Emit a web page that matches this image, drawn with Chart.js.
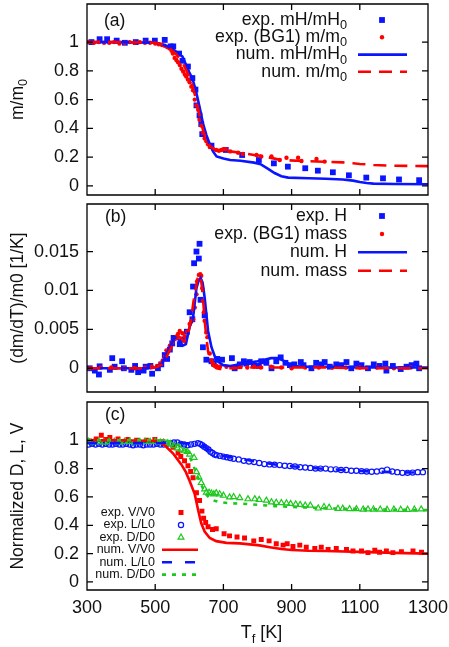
<!DOCTYPE html>
<html>
<head>
<meta charset="utf-8">
<script src="https://cdn.jsdelivr.net/npm/chart.js@4.4.1/dist/chart.umd.min.js"></script>
<style>
  body { margin: 0; background: #fff; width: 449px; height: 647px; position: relative; overflow: hidden; }
  canvas { position: absolute; left: 0; }
</style>
</head>
<body>
<canvas id="chartA" width="449" height="200" style="top:0px"></canvas>
<canvas id="chartB" width="449" height="197" style="top:200px"></canvas>
<canvas id="chartC" width="449" height="250" style="top:397px"></canvas>
<script>
// ---- axis ticks ----
const xTicks = [300, 500, 700, 900, 1100, 1300];
const yTicksFrac = [0, 0.2, 0.4, 0.6, 0.8, 1];
const yTicksRate = [0, 0.005, 0.01, 0.015];

// ---- panel (a): m/m0 ----
const aExpHT = [313,337,359,387,411,443,472,499,528,545,553,570,580,596,609,618,621,630,635,638,665,707,755,804,848,889,940,977,1021,1068,1119,1168,1215,1274];
const aExpHV = [1.0,1.02,1.02,1.01,0.995,1.0,1.01,1.01,1.015,0.97,0.97,0.92,0.87,0.83,0.75,0.67,0.56,0.49,0.43,0.36,0.28,0.25,0.215,0.18,0.157,0.134,0.123,0.106,0.095,0.074,0.058,0.053,0.045,0.04];
const aExpMT = [305,320,335,350,365,380,395,410,425,440,455,470,485,500,510,520,528,535,542,548,552,557,562,567,572,577,582,587,591,596,601,606,611,616,621,626,630,635,640,645,650,655,660,670,679,687,694,700,707,720,743,757,797,811,841,865,885,919,929,973,997];
const aExpMV = [1.0,0.995,1.0,0.995,0.995,1.0,0.99,0.995,1.0,0.995,1.0,0.995,0.995,0.99,0.985,0.98,0.975,0.965,0.956,0.94,0.92,0.89,0.875,0.86,0.84,0.815,0.795,0.775,0.76,0.74,0.72,0.69,0.665,0.6,0.56,0.53,0.46,0.42,0.37,0.33,0.31,0.29,0.27,0.255,0.25,0.245,0.25,0.255,0.255,0.24,0.231,0.222,0.215,0.205,0.205,0.18,0.196,0.196,0.173,0.187,0.169];
const aNumHT = [300,400,500,520,540,560,580,600,610,620,630,640,650,660,670,680,700,720,750,790,810,830,850,870,890,950,1000,1050,1080,1100,1120,1140,1200,1300];
const aNumHV = [1.0,1.0,0.995,0.985,0.967,0.935,0.9,0.79,0.74,0.655,0.55,0.435,0.355,0.29,0.238,0.205,0.19,0.18,0.175,0.162,0.15,0.12,0.09,0.068,0.058,0.053,0.05,0.045,0.037,0.027,0.02,0.016,0.013,0.012];
const aNumMT = [300,400,500,520,540,560,580,600,610,620,630,640,650,660,670,680,700,720,750,790,810,830,850,870,890,950,1000,1050,1080,1100,1120,1140,1200,1300];
const aNumMV = [1.0,1.0,0.995,0.985,0.96,0.92,0.86,0.76,0.69,0.6,0.49,0.39,0.32,0.28,0.26,0.25,0.245,0.24,0.23,0.215,0.21,0.2,0.19,0.18,0.178,0.172,0.168,0.164,0.158,0.153,0.15,0.146,0.14,0.138];

// ---- panel (b): (dm/dT)/m0 ----
const bExpHT = [308,323,335,337,367,374,381,403,408,430,441,450,466,472,486,491,508,518,528,535,543,550,554,572,581,593,601,609,611,614,621,628,630,633,640,645,650,665,672,682,696,725,733,748,760,767,777,789,804,811,826,841,855,868,882,895,908,927,935,958,972,987,997,1012,1031,1046,1061,1075,1090,1105,1124,1141,1158,1175,1178,1197,1220,1237,1252,1266,1274];
const bExpHV = [0,-0.0003,-0.0008,0.00025,-0.0002,0.0013,0.0002,0.0009,0,-0.0002,0.0003,-0.0005,-0.0003,0.0002,0.0003,-0.0007,0,0.0005,0.0017,0.0012,0.0024,0.0032,0.0039,0.0031,0.0037,0.0047,0.0072,0.0063,0.0105,0.0135,0.015,0.0141,0.016,0.0088,0.0027,0.0068,0.0011,0.0009,0.0006,0.0012,0.0011,0.0013,0,0.0005,0.0009,0.0006,0.0008,0.0004,0.0003,0.0009,0.0007,0,0.0009,0.0014,0.0007,0.0004,0.0005,0.0008,0.0004,0,0.0007,0.0005,0.0008,0.0002,0.0005,0.0004,0.0008,0,0.0006,0.0004,0,0.0005,0.0003,0.0006,-0.0003,0.0003,-0.0001,0.0002,0.0004,0.0006,0];
const bExpMT = [310,340,371,410,440,470,490,505,515,522,528,533,543,550,557,562,567,572,580,587,594,601,606,611,616,621,623,628,632,635,638,640,643,645,650,653,660,665,670,680,690,709,730,750,770,790,810,840,870,900,940,980,1020,1060,1100,1150,1200,1250];
const bExpMV = [0,0.0001,0.0001,0,0,0.0001,0.0002,0.0003,0.0006,0.001,0.0015,0.0023,0.0029,0.0033,0.0038,0.0041,0.0044,0.0048,0.0045,0.0041,0.0047,0.0057,0.006,0.0063,0.0078,0.0095,0.0112,0.012,0.0121,0.0119,0.0103,0.0087,0.0072,0.0061,0.0046,0.004,0.0019,0.001,0.0006,0.0003,0.0002,0.0002,0.0001,0.0002,0.0001,0.0002,0.0001,0.0002,0.0001,0,0.0001,0.0001,0.0001,0.0001,0.0001,0.0001,0,0.0001];
const bNumHT = [300,400,480,500,520,528,543,557,567,575,581,590,601,611,621,627,633,639,645,655,665,679,699,720,760,800,820,840,860,880,900,950,1000,1100,1200,1300];
const bNumHV = [0,0,0,0.0001,0.0006,0.0014,0.0027,0.004,0.0038,0.0032,0.0029,0.0031,0.0053,0.0065,0.0103,0.0112,0.0116,0.011,0.0091,0.0048,0.0027,0.001,0.0004,0.0003,0.0006,0.0009,0.0011,0.0013,0.0013,0.0009,0.0003,0.0002,0.0002,0.0001,0.0001,0.0001];
const bNumMT = [300,400,480,500,520,530,545,560,570,575,585,595,605,612,618,624,629,633,637,641,645,650,655,662,670,680,690,700,720,760,800,900,1000,1100,1200,1300];
const bNumMV = [0,0,0,0.0001,0.0005,0.0012,0.0025,0.0036,0.004,0.0039,0.0034,0.0042,0.0062,0.0085,0.01,0.0115,0.012,0.0118,0.0105,0.0085,0.0062,0.004,0.0022,0.001,0.0003,0,-0.0001,-0.0001,0,0.0001,0.0001,0.0001,0.0001,0,0,0];

// ---- panel (c): normalized D, L, V ----
const cExpVT = [308,327,342,355,367,391,420,445,474,499,523,552,567,575,586,596,604,611,621,630,637,642,648,655,668,679,702,718,740,762,789,811,834,855,875,887,904,924,943,968,987,1007,1031,1061,1080,1105,1124,1144,1158,1178,1197,1222,1256,1281];
const cExpVV = [0.995,1.01,1.035,1.005,1.02,1.01,1.005,1.0,1.0,1.005,0.99,0.95,0.91,0.885,0.855,0.82,0.78,0.735,0.63,0.575,0.5,0.45,0.42,0.39,0.37,0.375,0.34,0.325,0.317,0.31,0.29,0.3,0.29,0.27,0.26,0.27,0.25,0.26,0.245,0.237,0.245,0.23,0.237,0.23,0.218,0.218,0.207,0.223,0.21,0.218,0.207,0.214,0.218,0.21];
const cExpLT = [305,315,325,335,345,355,365,375,385,395,405,415,425,435,445,455,465,475,485,495,505,515,525,535,545,555,565,575,585,595,605,615,625,632,638,644,650,656,662,668,674,680,690,700,710,720,730,745,760,775,790,805,820,835,850,865,880,895,910,925,940,955,970,985,1000,1015,1030,1045,1060,1075,1090,1105,1120,1135,1150,1165,1180,1195,1210,1225,1240,1255,1270,1285];
const cExpLV = [0.97,0.975,0.97,0.975,0.97,0.975,0.97,0.97,0.975,0.97,0.97,0.975,0.97,0.965,0.97,0.97,0.965,0.97,0.97,0.97,0.975,0.97,0.97,0.975,0.98,0.985,0.985,0.975,0.97,0.965,0.97,0.975,0.98,0.975,0.965,0.955,0.945,0.935,0.92,0.91,0.9,0.895,0.89,0.885,0.88,0.875,0.87,0.865,0.855,0.85,0.846,0.84,0.832,0.83,0.828,0.825,0.82,0.818,0.815,0.81,0.808,0.805,0.8,0.8,0.8,0.795,0.795,0.79,0.79,0.785,0.785,0.782,0.78,0.778,0.78,0.785,0.793,0.78,0.775,0.77,0.77,0.772,0.775,0.775];
const cExpDT = [305,320,335,350,365,380,395,410,425,440,455,470,485,500,515,525,535,545,555,565,575,585,594,601,614,621,628,635,645,650,658,665,672,679,689,700,718,730,748,772,792,805,826,841,855,870,885,897,912,925,940,955,978,995,1010,1036,1050,1070,1090,1110,1124,1140,1160,1180,1200,1220,1240,1260,1280];
const cExpDV = [0.99,0.985,0.99,0.985,0.99,0.99,0.985,0.99,0.99,0.985,0.99,0.99,0.99,0.99,0.985,0.985,0.98,0.975,0.96,0.945,0.935,0.924,0.92,0.9,0.878,0.777,0.74,0.7,0.655,0.632,0.63,0.625,0.62,0.628,0.62,0.61,0.598,0.6,0.593,0.585,0.585,0.58,0.575,0.563,0.56,0.558,0.556,0.552,0.548,0.545,0.54,0.54,0.52,0.53,0.525,0.517,0.518,0.515,0.515,0.512,0.513,0.512,0.512,0.51,0.512,0.51,0.51,0.512,0.513];
const cNumVT = [300,400,500,513,530,552,577,590,601,616,626,635,645,660,679,709,748,806,836,870,900,950,1000,1100,1200,1300];
const cNumVV = [1.0,1.0,0.995,0.989,0.96,0.908,0.828,0.775,0.713,0.62,0.506,0.414,0.356,0.31,0.288,0.276,0.272,0.258,0.245,0.232,0.225,0.22,0.218,0.212,0.205,0.2];
const cNumLT = [300,500,560,600,630,645,660,680,700,750,800,850,900,950,1000,1050,1100,1150,1200,1250,1300];
const cNumLV = [0.98,0.98,0.985,0.975,0.975,0.955,0.925,0.9,0.89,0.87,0.848,0.83,0.817,0.806,0.798,0.79,0.783,0.778,0.775,0.773,0.772];
const cNumDT = [300,400,500,540,560,572,590,601,612,620,630,640,650,665,689,718,757,800,850,900,950,1000,1050,1100,1150,1200,1250,1300];
const cNumDV = [1.0,1.0,1.0,0.995,0.98,0.966,0.93,0.885,0.82,0.77,0.713,0.66,0.615,0.58,0.563,0.556,0.552,0.545,0.535,0.53,0.525,0.52,0.517,0.515,0.512,0.51,0.508,0.507];

const RED = '#ff0000', BLUE = '#0a14ff', GREEN = '#1ec81e';
const FONT = '"Liberation Sans", Arial, sans-serif';
const TXT = '#111';

function pts(xs, ys) { return xs.map((x, i) => ({ x: x, y: ys[i] })); }

function markers(label, xs, ys, color, style, r, open) {
  return { label, data: pts(xs, ys), showLine: false, pointStyle: style, pointRadius: r,
    pointBackgroundColor: open ? 'rgba(0,0,0,0)' : color, pointBorderColor: color,
    pointBorderWidth: open ? 1.2 : 0, borderColor: color, backgroundColor: color };
}
function line(label, xs, ys, color, dash) {
  return { label, data: pts(xs, ys), showLine: true, pointRadius: 0, borderColor: color,
    borderWidth: 2.6, borderDash: dash || [], tension: 0, backgroundColor: color };
}

// marker used for the gnuplot-like key
function drawMarker(ctx, ds, x, y) {
  const r = ds.pointRadius;
  ctx.beginPath();
  if (ds.pointStyle === 'rect') {
    const s = Math.SQRT1_2 * r;
    ctx.rect(x - s, y - s, 2 * s, 2 * s);
  } else if (ds.pointStyle === 'triangle') {
    ctx.moveTo(x, y - r);
    ctx.lineTo(x + r * 0.866, y + r * 0.5);
    ctx.lineTo(x - r * 0.866, y + r * 0.5);
    ctx.closePath();
  } else {
    ctx.arc(x, y, r, 0, Math.PI * 2);
  }
  ctx.fillStyle = ds.pointBackgroundColor;
  ctx.fill();
  if (ds.pointBorderWidth > 0) {
    ctx.lineWidth = ds.pointBorderWidth;
    ctx.strokeStyle = ds.pointBorderColor;
    ctx.stroke();
  }
}

// width of a label with one trailing subscript, e.g. "m/m_0"
function subWidth(ctx, s, size) {
  const parts = s.split('_');
  ctx.font = size + 'px ' + FONT;
  let w = ctx.measureText(parts[0]).width;
  if (parts[1]) { ctx.font = (size * 0.72) + 'px ' + FONT; w += ctx.measureText(parts[1]).width; }
  return w;
}

// text with one trailing subscript, aligned by its right edge
function subText(ctx, s, xRight, y, size) {
  const parts = s.split('_');
  const main = parts[0], sub = parts[1] || '';
  const subSize = size * 0.72;
  ctx.font = subSize + 'px ' + FONT;
  const w2 = sub ? ctx.measureText(sub).width : 0;
  ctx.font = size + 'px ' + FONT;
  const w1 = ctx.measureText(main).width;
  ctx.textAlign = 'left';
  ctx.textBaseline = 'middle';
  ctx.fillStyle = TXT;
  ctx.fillText(main, xRight - w1 - w2, y);
  if (sub) {
    ctx.font = subSize + 'px ' + FONT;
    ctx.fillText(sub, xRight - w2, y + size * 0.32);
  }
}

const gpPlugin = {
  id: 'gp',
  afterDraw(chart, args, opts) {
    const { ctx, chartArea: a, scales } = chart;
    ctx.save();
    ctx.setLineDash([]);
    // border + inward ticks
    ctx.strokeStyle = '#000';
    ctx.lineWidth = 1.3;
    const L = Math.round(a.left), R = Math.round(a.right), T = Math.round(a.top), B = Math.round(a.bottom);
    ctx.beginPath();
    ctx.moveTo(L, T); ctx.lineTo(R, T); ctx.lineTo(R, B); ctx.lineTo(L, B); ctx.closePath();
    xTicks.forEach(v => {
      const x = scales.x.getPixelForValue(v);
      ctx.moveTo(x, T); ctx.lineTo(x, T + 6);
      ctx.moveTo(x, B); ctx.lineTo(x, B - 6);
    });
    scales.y.ticks.forEach(t => {
      const y = scales.y.getPixelForValue(t.value);
      ctx.moveTo(L, y); ctx.lineTo(L + 6, y);
      ctx.moveTo(R, y); ctx.lineTo(R - 6, y);
    });
    ctx.stroke();

    // rotated y title with a subscript (panel a)
    if (opts.yTitleSub) {
      const w = subWidth(ctx, opts.yTitleSub, 17.5);
      ctx.save();
      ctx.translate(18, (a.top + a.bottom) / 2);
      ctx.rotate(-Math.PI / 2);
      subText(ctx, opts.yTitleSub, w / 2, 0, 17.5);
      ctx.restore();
    }

    // panel tag
    ctx.fillStyle = TXT;
    ctx.font = '17.5px ' + FONT;
    ctx.textAlign = 'left';
    ctx.textBaseline = 'middle';
    ctx.fillText(opts.tag, opts.tagX, opts.tagY);

    // key
    const k = opts.key;
    chart.data.datasets.forEach((ds, i) => {
      const y = k.rows[i];
      subText(ctx, ds.label, k.textRight, y, k.size);
      if (ds.showLine) {
        ctx.beginPath();
        ctx.setLineDash(ds.borderDash);
        ctx.strokeStyle = ds.borderColor;
        ctx.lineWidth = ds.borderWidth;
        ctx.moveTo(k.lineX1, y); ctx.lineTo(k.lineX2, y);
        ctx.stroke();
        ctx.setLineDash([]);
      } else {
        drawMarker(ctx, ds, k.markX, y);
      }
    });

    // x axis title with subscript
    if (opts.xTitle) {
      const cx = (a.left + a.right) / 2, ty = opts.xTitleY;
      ctx.fillStyle = TXT;
      ctx.textBaseline = 'middle';
      ctx.font = '18px ' + FONT;
      const wT = ctx.measureText('T').width, wK = ctx.measureText(' [K]').width;
      ctx.font = '13px ' + FONT;
      const wf = ctx.measureText('f').width;
      const x = cx - (wT + wf + wK) / 2 + 4;
      ctx.font = '18px ' + FONT;
      ctx.fillText('T', x, ty);
      ctx.font = '13px ' + FONT;
      ctx.fillText('f', x + wT, ty + 6);
      ctx.font = '18px ' + FONT;
      ctx.fillText(' [K]', x + wT + wf, ty);
    }
    ctx.restore();
  }
};

function noPad(s) { s.paddingTop = 0; s.paddingBottom = 0; s.paddingLeft = 0; s.paddingRight = 0; }

function makeChart(id, datasets, cfg) {
  datasets.forEach((d, i) => { d.order = datasets.length - i; });
  return new Chart(document.getElementById(id), {
    type: 'scatter',
    data: { datasets },
    plugins: [gpPlugin],
    options: {
      responsive: false,
      animation: false,
      devicePixelRatio: 1,
      layout: { padding: { left: 0, right: 21, top: cfg.padTop, bottom: cfg.padBottom } },
      plugins: {
        legend: { display: false },
        tooltip: { enabled: false },
        gp: cfg.gp
      },
      scales: {
        x: {
          type: 'linear', min: 300, max: 1300, display: true,
          afterBuildTicks: s => { s.ticks = xTicks.map(v => ({ value: v })); },
          afterFit: s => { s.height = cfg.xHeight; noPad(s); },
          grid: { display: false, drawTicks: false },
          border: { display: false },
          ticks: { display: cfg.showX, font: { family: FONT, size: 18 }, color: TXT, padding: 7, maxRotation: 0, autoSkip: false, callback: v => String(v) }
        },
        y: {
          type: 'linear', min: cfg.yMin, max: cfg.yMax,
          afterBuildTicks: s => { s.ticks = cfg.yTicks.map(v => ({ value: v })); },
          afterFit: s => { s.width = 87; noPad(s); },
          grid: { display: false, drawTicks: false },
          border: { display: false },
          ticks: { font: { family: FONT, size: 18 }, color: TXT, padding: 8, callback: v => String(v) },
          title: { display: !!cfg.yTitle, text: cfg.yTitle || '', color: TXT, font: { family: FONT, size: 17.5 }, padding: { top: 8, bottom: 0 } }
        }
      }
    }
  });
}

makeChart('chartA', [
  markers('exp. mH/mH_0', aExpHT, aExpHV, BLUE, 'rect', 4.1, false),
  markers('exp. (BG1) m/m_0', aExpMT, aExpMV, RED, 'circle', 2.2, false),
  line('num. mH/mH_0', aNumHT, aNumHV, BLUE),
  line('num. m/m_0', aNumMT, aNumMV, RED, [13, 8])
], {
  padTop: 4, padBottom: 5, xHeight: 0, showX: false, yMin: -0.063, yMax: 1.264, yTicks: yTicksFrac, yTitle: null,
  gp: { tag: '(a)', tagX: 104, tagY: 21, yTitleSub: 'm/m_0',
        key: { rows: [20, 37.3, 54.6, 71.8], textRight: 347, markX: 382, lineX1: 358, lineX2: 407, size: 17.7 } }
});

makeChart('chartB', [
  markers('exp. H', bExpHT, bExpHV, BLUE, 'rect', 4.1, false),
  markers('exp. (BG1) mass', bExpMT, bExpMV, RED, 'circle', 2.2, false),
  line('num. H', bNumHT, bNumHV, BLUE),
  line('num. mass', bNumMT, bNumMV, RED, [13, 8])
], {
  padTop: 2, padBottom: 5, xHeight: 0, showX: false, yMin: -0.00305, yMax: 0.0211, yTicks: yTicksRate, yTitle: '(dm/dT)/m0 [1/K]',
  gp: { tag: '(b)', tagX: 105, tagY: 16.7, key: { rows: [16, 34, 52.3, 70.7], textRight: 347, markX: 382, lineX1: 358, lineX2: 407, size: 17.7 } }
});

makeChart('chartC', [
  markers('exp. V/V0', cExpVT, cExpVV, RED, 'rect', 3.5, false),
  markers('exp. L/L0', cExpLT, cExpLV, BLUE, 'circle', 2.6, true),
  markers('exp. D/D0', cExpDT, cExpDV, GREEN, 'triangle', 3.4, true),
  line('num. V/V0', cNumVT, cNumVV, RED),
  line('num. L/L0', cNumLT, cNumLV, BLUE, [10, 13]),
  line('num. D/D0', cNumDT, cNumDV, GREEN, [4, 6])
], {
  padTop: 1, padBottom: 0, xHeight: 57, showX: true, yMin: -0.057, yMax: 1.269, yTicks: yTicksFrac, yTitle: 'Normalized D, L, V',
  gp: { tag: '(c)', tagX: 105, tagY: 18, xTitle: true, xTitleY: 236,
        key: { rows: [115.5, 128, 140.4, 152.8, 165.2, 177.6], textRight: 155, markX: 181, lineX1: 162, lineX2: 198, size: 12.5 } }
});
</script>
</body>
</html>
